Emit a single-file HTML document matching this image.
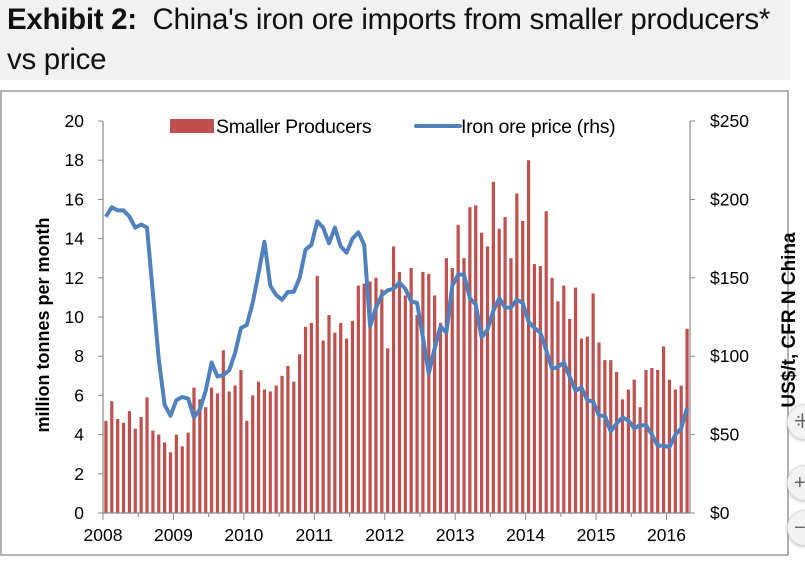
<!DOCTYPE html>
<html><head><meta charset="utf-8"><style>
body{margin:0;width:805px;height:561px;background:#fff;overflow:hidden;font-family:"Liberation Sans",sans-serif;position:relative}
#title{position:absolute;left:0;top:0;width:790px;height:80px;background:#f1f1f1;font-size:29.5px;line-height:40px;padding:0 0 0 7px;box-sizing:border-box;color:#111;letter-spacing:-0.3px}
.zb{position:absolute;width:34px;height:34px;border-radius:50%;background:#f3f3f3;border:1px solid #ddd;box-shadow:0 1px 3px rgba(0,0,0,.25);color:#666;font-size:20px;line-height:34px;text-indent:6px}
</style></head><body>
<div id="title"><b>Exhibit 2:</b>&nbsp; China's iron ore imports from smaller producers*<br>vs price</div>
<svg id="chart" width="805" height="561" style="position:absolute;left:0;top:0"></svg>
<div class="zb" style="left:787px;top:404px">⁜</div>
<div class="zb" style="left:787px;top:465px">+</div>
<div class="zb" style="left:787px;top:510px">−</div>
<script>
const years=["2008","2009","2010","2011","2012","2013","2014","2015","2016"];
const leftTicks=[0,2,4,6,8,10,12,14,16,18,20];
const rightTicks=["$0","$50","$100","$150","$200","$250"];
const imports=[4.7,5.7,4.8,4.6,5.2,4.3,4.9,5.9,4.2,4.0,3.6,3.1,
4.0,3.4,4.1,6.4,5.8,5.4,6.4,6.1,8.3,6.2,6.5,7.3,
4.7,6.0,6.7,6.3,6.2,6.5,7.0,7.5,6.7,8.1,9.5,9.7,
12.1,8.8,10.1,9.2,9.7,8.9,9.8,11.6,11.7,11.8,12.0,11.4,
8.4,13.6,12.3,11.1,12.5,10.1,12.3,12.2,11.1,9.7,13.0,12.5,
14.7,13.0,15.6,15.7,14.3,13.6,16.9,14.5,15.1,13.0,16.3,14.9,
18.0,12.7,12.6,15.4,12.0,10.8,11.6,9.9,11.5,8.9,9.0,11.2,
8.7,7.8,7.8,7.2,5.8,6.3,6.8,5.4,7.3,7.4,7.3,8.5,
6.8,6.3,6.5,9.4];
const price=[189,195,193,193,189,182,184,182,140,98,69,62,
72,74,73,61,66,78,96,87,88,91,102,118,
120,134,153,173,145,139,136,141,141,150,168,171,
186,182,172,182,170,166,175,179,171,119,131,139,
142,143,147,143,135,134,112,89,105,119,115,145,
152,152,137,133,112,117,129,137,131,131,136,134,
122,118,115,104,92,93,96,87,78,80,72,71,
62,62,52,57,61,59,54,56,56,50,43,43,
42,50,54,67];
const svg=document.getElementById('chart'),NS='http://www.w3.org/2000/svg';
function mk(t,a,txt){const e=document.createElementNS(NS,t);for(const k in a)e.setAttribute(k,a[k]);if(txt!==undefined)e.textContent=txt;svg.appendChild(e);return e;}
const X0=103,X1=690,Y0=513,Y1=121,perM=(X1-X0)/100;
const xM=i=>X0+perM*(i+0.5);
const yL=v=>Y0-(v/20)*(Y0-Y1);
const yR=v=>Y0-(v/250)*(Y0-Y1);
let e;
e=mk('rect',{x:1,y:91,width:787,height:464,fill:'none',stroke:'#999','stroke-width':1.5});

imports.forEach((v,i)=>{e=mk('rect',{x:xM(i)-1.6,y:yL(v),width:3.2,height:Y0-yL(v),fill:'#c0504d'});
});
e=mk('polyline',{points:price.map((v,i)=>xM(i)+','+yR(v)).join(' '),fill:'none',stroke:'#4f81bd','stroke-width':4,'stroke-linejoin':'round'});

mk('line',{x1:X0,y1:Y1,x2:X0,y2:Y0,stroke:'#888','stroke-width':1.2});
mk('line',{x1:X1,y1:Y1,x2:X1,y2:Y0,stroke:'#888','stroke-width':1.2});
mk('line',{x1:X0,y1:Y0,x2:X1,y2:Y0,stroke:'#888','stroke-width':1.2});
leftTicks.forEach(v=>{mk('line',{x1:X0-5,y1:yL(v),x2:X0,y2:yL(v),stroke:'#888'});
e=mk('text',{x:X0-19,y:yL(v)+6,'text-anchor':'end','font-size':17.5,fill:'#000'},v);
});
rightTicks.forEach((t,k)=>{const y=yR(k*50);mk('line',{x1:X1,y1:y,x2:X1+5,y2:y,stroke:'#888'});
e=mk('text',{x:X1+20,y:y+6,'font-size':17.5,fill:'#000'},t);
});
for(let i=0;i<=100;i+=6){mk('line',{x1:X0+perM*i,y1:Y0,x2:X0+perM*i,y2:Y0+(i%12==0?7:4),stroke:'#888'});}
years.forEach((t,k)=>{e=mk('text',{x:X0+perM*12*k,y:Y0+28,'text-anchor':'middle','font-size':17.5,fill:'#000'},t);
});
e=mk('text',{x:0,y:0,transform:'translate(49,325) rotate(-90)','text-anchor':'middle','font-size':18,'font-weight':'bold'},'million tonnes per month');

e=mk('text',{x:0,y:0,transform:'translate(795,320) rotate(-90)','text-anchor':'middle','font-size':19,'font-weight':'bold'},'US$/t, CFR N China');

e=mk('rect',{x:170,y:119,width:44,height:14,fill:'#c0504d'});

e=mk('text',{x:216,y:133,'font-size':19.5,'letter-spacing':'-0.3'},'Smaller Producers');

e=mk('line',{x1:416,y1:126,x2:460,y2:126,stroke:'#4f81bd','stroke-width':4,'stroke-linecap':'round'});

e=mk('text',{x:461,y:133,'font-size':19.5,'letter-spacing':'-0.3'},'Iron ore price (rhs)');

</script>
</body></html>
